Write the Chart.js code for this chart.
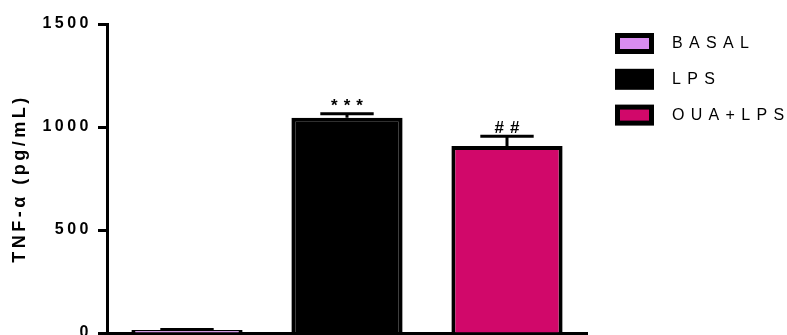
<!DOCTYPE html>
<html>
<head>
<meta charset="utf-8">
<script src="https://cdn.jsdelivr.net/npm/chart.js@4"></script>
<style>
  html, body { margin: 0; padding: 0; background: #fff; overflow: hidden; }
  #wrap { position: relative; width: 787px; height: 360px; }
</style>
</head>
<body>
<div id="wrap"><canvas id="tnfChart"></canvas></div>
<script>
// groups and measured TNF-alpha (pg/mL), mean and SEM
const groups = ['BASAL', 'LPS', 'OUA+LPS'];
const means = [15, 1045, 908];
const sems = [2, 19, 47];
const marks = ['', '***', '##'];
const groupColors = ['#d98cf0', '#000000', '#d1086a'];
const yTicks = [0, 500, 1000, 1500];

const FONT = "'Liberation Sans', Arial, sans-serif";

// letter spacing for axis text (reset whenever the canvas is resized)
const spacing = {
    id: 'spacing',
    beforeLayout(chart) { chart.ctx.letterSpacing = '3.5px'; },
    beforeDraw(chart) { chart.ctx.letterSpacing = '3.5px'; }
};

// upper error bars with significance marks
const errorBars = {
    id: 'errorBars',
    afterDatasetsDraw(chart) {
        const ctx = chart.ctx;
        const y = chart.scales.y;
        const meta = chart.getDatasetMeta(0);
        ctx.save();
        ctx.strokeStyle = '#000';
        ctx.lineWidth = 3;
        meta.data.forEach((bar, i) => {
            const top = y.getPixelForValue(means[i]);
            const cap = y.getPixelForValue(means[i] + sems[i]);
            const half = bar.width * 0.24;
            ctx.beginPath();
            ctx.moveTo(bar.x, top);
            ctx.lineTo(bar.x, cap);
            ctx.moveTo(bar.x - half, cap);
            ctx.lineTo(bar.x + half, cap);
            ctx.stroke();
            if (marks[i]) {
                ctx.letterSpacing = '6px';
                ctx.font = 'bold 17px ' + FONT;
                ctx.fillStyle = '#000';
                ctx.textAlign = 'center';
                ctx.textBaseline = 'alphabetic';
                ctx.fillText(marks[i], bar.x + 3, cap - 3);
            }
        });
        ctx.restore();
    }
};

// legend boxes with outlined swatches
const sideLegend = {
    id: 'sideLegend',
    afterDraw(chart) {
        const ctx = chart.ctx;
        const x0 = chart.chartArea.right + 28;
        ctx.save();
        ctx.letterSpacing = '6.3px';
        ctx.font = '16px ' + FONT;
        ctx.textAlign = 'left';
        ctx.textBaseline = 'middle';
        groups.forEach((g, i) => {
            const cy = 43 + i * 35.8;
            ctx.fillStyle = '#000';
            ctx.fillRect(x0, cy - 10, 39, 21);
            ctx.fillStyle = groupColors[i];
            ctx.fillRect(x0 + 5, cy - 5, 29, 11);
            ctx.fillStyle = '#000';
            ctx.fillText(g, x0 + 57, cy + 1);
        });
        ctx.restore();
    }
};

new Chart(document.getElementById('tnfChart'), {
    type: 'bar',
    data: {
        labels: groups,
        datasets: [{
            data: means,
            backgroundColor: groupColors,
            borderColor: '#000',
            borderWidth: 4,
            barPercentage: 0.695,
            categoryPercentage: 1
        }]
    },
    options: {
        responsive: true,
        maintainAspectRatio: false,
        animation: false,
        layout: { padding: { top: 24, right: 200, bottom: 0, left: 0 } },
        plugins: {
            legend: { display: false },
            tooltip: { enabled: false }
        },
        scales: {
            x: {
                afterFit: (s) => { s.height = 27; },
                ticks: { display: false },
                grid: { display: false },
                border: { color: '#000', width: 3 }
            },
            y: {
                min: 0,
                max: 1500,
                afterFit: (s) => { s.width = 107; },
                afterBuildTicks: (s) => { s.ticks = yTicks.map(v => ({ value: v })); },
                ticks: {
                    color: '#000',
                    padding: 6,
                    callback: (v) => String(v),
                    font: { family: FONT, size: 16, weight: 'bold' }
                },
                grid: {
                    drawOnChartArea: false,
                    tickLength: 9,
                    tickWidth: 3,
                    tickColor: '#000'
                },
                border: { color: '#000', width: 3 },
                title: {
                    display: true,
                    text: 'TNF-α (pg/mL)',
                    color: '#000',
                    padding: { top: 9, bottom: 0 },
                    font: { family: FONT, size: 18, weight: 'bold' }
                }
            }
        }
    },
    plugins: [spacing, errorBars, sideLegend]
});
</script>
</body>
</html>
